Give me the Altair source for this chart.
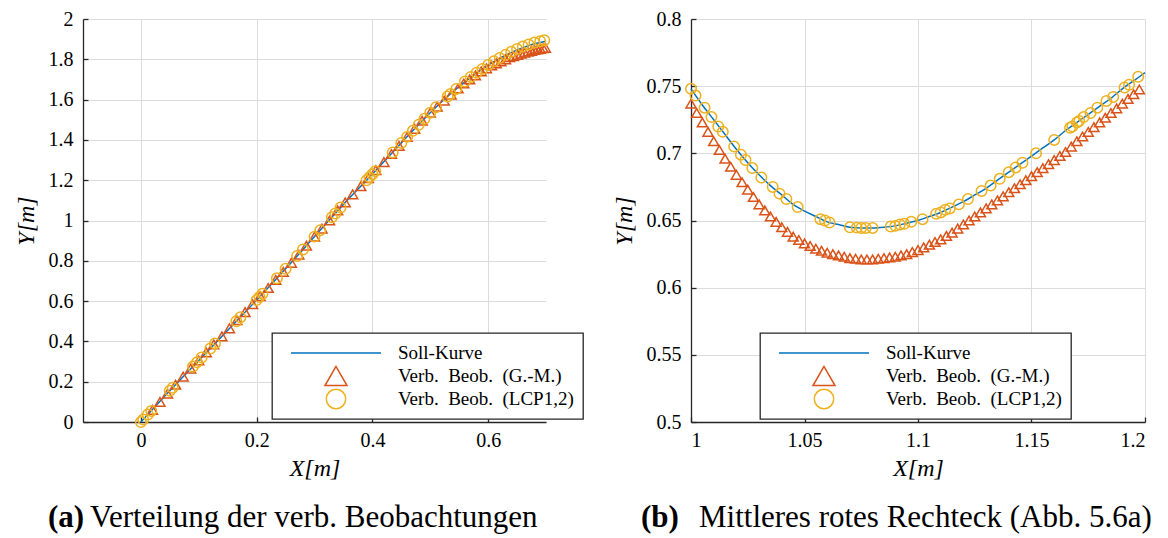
import altair as alt
import pandas as pd

FONT = "Liberation Serif"
SERIES = ["Soll-Kurve", "Verb.\u2002Beob.\u2002(G.-M.)", "Verb.\u2002Beob.\u2002(LCP1,2)"]
COLORS = ["#0072BD", "#D95319", "#EDB120"]
LEGEND_SHAPES = ["stroke", "triangle-up", "circle"]
LEGEND_SIZES = [8100, 484, 380]

# ---------------- panel (a) ----------------
A_SOLL_X = [0, 0.05, 0.1, 0.15, 0.2, 0.25, 0.3, 0.35, 0.4, 0.45, 0.5, 0.55, 0.6, 0.63, 0.66, 0.68, 0.7]
A_SOLL_Y = [0, 0.155, 0.305, 0.455, 0.605, 0.76, 0.92, 1.08, 1.23, 1.385, 1.535, 1.665, 1.77, 1.82, 1.857, 1.877, 1.89]

A_GM_X = [0.02, 0.033, 0.046, 0.06, 0.073, 0.086, 0.1, 0.113, 0.126, 0.14, 0.153, 0.166, 0.18, 0.193, 0.206,
          0.22, 0.233, 0.246, 0.26, 0.273, 0.286, 0.3, 0.313, 0.326, 0.34, 0.353, 0.366, 0.38, 0.393, 0.406,
          0.42, 0.433, 0.446, 0.46, 0.473, 0.486, 0.5, 0.512, 0.524, 0.536, 0.548, 0.558, 0.568, 0.578, 0.588,
          0.597, 0.606, 0.614, 0.622, 0.63, 0.637, 0.644, 0.651, 0.657, 0.663, 0.669, 0.675, 0.68, 0.685, 0.69,
          0.695, 0.699]
A_GM_Y = [0.06, 0.10, 0.14, 0.185, 0.225, 0.265, 0.305, 0.345, 0.385, 0.425, 0.465, 0.505, 0.545, 0.585, 0.625,
          0.665, 0.705, 0.745, 0.79, 0.83, 0.875, 0.92, 0.96, 1.00, 1.05, 1.09, 1.13, 1.17, 1.21, 1.25,
          1.29, 1.33, 1.37, 1.415, 1.455, 1.495, 1.535, 1.565, 1.595, 1.625, 1.655, 1.68, 1.70, 1.72, 1.74,
          1.755, 1.77, 1.78, 1.79, 1.80, 1.81, 1.815, 1.822, 1.828, 1.833, 1.838, 1.842, 1.846, 1.849, 1.852,
          1.855, 1.857]

A_LCP_X = [0, 0.004, 0.012, 0.018, 0.05, 0.055, 0.09, 0.097, 0.105, 0.12, 0.128, 0.165, 0.172, 0.2, 0.205,
           0.21, 0.235, 0.25, 0.27, 0.28, 0.3, 0.31, 0.33, 0.336, 0.345, 0.39, 0.395, 0.4, 0.405, 0.435,
           0.45, 0.46, 0.47, 0.48, 0.49, 0.5, 0.51, 0.53, 0.535, 0.545, 0.56, 0.57, 0.58, 0.59, 0.6,
           0.61, 0.62, 0.63, 0.64, 0.65, 0.66, 0.67, 0.68, 0.69, 0.697]
A_LCP_Y = [0, 0.012, 0.037, 0.055, 0.155, 0.17, 0.275, 0.296, 0.32, 0.365, 0.39, 0.50, 0.52, 0.605, 0.62,
           0.636, 0.713, 0.76, 0.824, 0.856, 0.92, 0.952, 1.016, 1.035, 1.064, 1.20, 1.215, 1.23, 1.245, 1.338,
           1.385, 1.415, 1.445, 1.475, 1.505, 1.535, 1.562, 1.615, 1.628, 1.653, 1.69, 1.712, 1.733, 1.752, 1.772,
           1.79, 1.806, 1.822, 1.837, 1.851, 1.863, 1.874, 1.883, 1.89, 1.895]

A_X_DOMAIN = [-0.1, 0.7]
A_Y_DOMAIN = [0, 2]
A_X_TICKS = [0, 0.2, 0.4, 0.6]
A_Y_TICKS = [0, 0.2, 0.4, 0.6, 0.8, 1, 1.2, 1.4, 1.6, 1.8, 2]
CAPTION_A = ["(a)", "Verteilung der verb. Beobachtungen"]

# ---------------- panel (b) ----------------
B_SOLL_X = [1.000, 1.005, 1.010, 1.015, 1.020, 1.025, 1.030, 1.035, 1.040, 1.045, 1.050, 1.055, 1.060, 1.065,
            1.070, 1.075, 1.080, 1.085, 1.090, 1.095, 1.100, 1.105, 1.110, 1.115, 1.120, 1.125, 1.130, 1.135,
            1.140, 1.145, 1.150, 1.155, 1.160, 1.165, 1.170, 1.175, 1.180, 1.185, 1.190, 1.195, 1.200]
B_SOLL_Y = [0.748, 0.736, 0.725, 0.714, 0.703, 0.693, 0.684, 0.676, 0.669, 0.662, 0.657, 0.653, 0.649, 0.647,
            0.645, 0.6445, 0.6445, 0.645, 0.646, 0.648, 0.650, 0.653, 0.656, 0.660, 0.664, 0.669, 0.674, 0.680,
            0.686, 0.692, 0.698, 0.704, 0.710, 0.717, 0.723, 0.729, 0.735, 0.741, 0.748, 0.754, 0.760]

B_GM_X = [1.0, 1.0025, 1.005, 1.0075, 1.01, 1.0125, 1.015, 1.0175, 1.02, 1.0225, 1.025, 1.0275, 1.03, 1.0325,
          1.035, 1.0375, 1.04, 1.0425, 1.045, 1.0475, 1.05, 1.0525, 1.055, 1.0575, 1.06, 1.0625, 1.065, 1.0675,
          1.07, 1.0725, 1.075, 1.0775, 1.08, 1.0825, 1.085, 1.0875, 1.09, 1.0925, 1.095, 1.0975, 1.1, 1.1025,
          1.105, 1.1075, 1.11, 1.1125, 1.115, 1.1175, 1.12, 1.1225, 1.125, 1.1275, 1.13, 1.1325, 1.135, 1.1375,
          1.14, 1.1425, 1.145, 1.1475, 1.15, 1.1525, 1.155, 1.1575, 1.16, 1.1625, 1.165, 1.1675, 1.17, 1.1725,
          1.175, 1.1775, 1.18, 1.1825, 1.185, 1.1875, 1.19, 1.1925, 1.195, 1.1975]
B_GM_Y = [0.737, 0.730, 0.723, 0.716, 0.709, 0.7025, 0.696, 0.690, 0.684, 0.6785, 0.673, 0.6675, 0.662, 0.6575,
          0.653, 0.649, 0.645, 0.6415, 0.638, 0.6355, 0.633, 0.631, 0.629, 0.6275, 0.626, 0.625, 0.624, 0.623,
          0.622, 0.6215, 0.621, 0.621, 0.621, 0.6215, 0.622, 0.6225, 0.623, 0.624, 0.625, 0.6265, 0.628, 0.630,
          0.632, 0.634, 0.636, 0.6385, 0.641, 0.644, 0.647, 0.650, 0.653, 0.656, 0.659, 0.662, 0.665, 0.668,
          0.671, 0.674, 0.677, 0.680, 0.683, 0.686, 0.689, 0.692, 0.695, 0.698, 0.701, 0.705, 0.709, 0.7125,
          0.716, 0.7195, 0.723, 0.7265, 0.730, 0.7335, 0.737, 0.7405, 0.744, 0.7475]

B_LCP_X = [1.000, 1.002, 1.006, 1.009, 1.012, 1.014, 1.019, 1.022, 1.024, 1.027, 1.031, 1.036, 1.039, 1.042,
           1.047, 1.057, 1.059, 1.061, 1.070, 1.073, 1.075, 1.077, 1.080, 1.088, 1.090, 1.092, 1.094, 1.097,
           1.102, 1.108, 1.110, 1.112, 1.114, 1.118, 1.122, 1.128, 1.132, 1.136, 1.140, 1.143, 1.146, 1.152,
           1.160, 1.167, 1.168, 1.170, 1.171, 1.173, 1.176, 1.179, 1.183, 1.186, 1.191, 1.193, 1.197]
B_LCP_Y = [0.748, 0.743, 0.734, 0.727, 0.720, 0.716, 0.705, 0.699, 0.695, 0.689, 0.682, 0.675, 0.670, 0.666,
           0.660, 0.651, 0.650, 0.6485, 0.645, 0.6447, 0.6445, 0.6445, 0.6445, 0.6455, 0.646, 0.647, 0.6475, 0.649,
           0.651, 0.655, 0.656, 0.658, 0.659, 0.662, 0.666, 0.672, 0.676, 0.681, 0.686, 0.6895, 0.693, 0.700,
           0.710, 0.719, 0.720, 0.723, 0.724, 0.727, 0.730, 0.734, 0.739, 0.742, 0.749, 0.751, 0.757]

B_X_DOMAIN = [1.0, 1.2]
B_Y_DOMAIN = [0.5, 0.8]
B_X_TICKS = [1, 1.05, 1.1, 1.15, 1.2]
B_Y_TICKS = [0.5, 0.55, 0.6, 0.65, 0.7, 0.75, 0.8]
CAPTION_B = ["(b)", "Mittleres rotes Rechteck (Abb. 5.6a)"]

W_A, W_B, H = 463, 454, 403

AX_TEXT = dict(labelFont=FONT, labelFontSize=20, labelColor="black",
               titleFont=FONT, titleFontSize=24, titleFontStyle="italic",
               titleFontWeight="normal", titleColor="black")


def panel(sx, sy, gx, gy, lx, ly, xdom, ydom, xt, yt, caption, w, legend_x, cap_dx):
    soll = pd.DataFrame({"x": sx, "y": sy, "s": SERIES[0]})
    gm = pd.DataFrame({"x": gx, "y": gy, "s": SERIES[1]})
    lcp = pd.DataFrame({"x": lx, "y": ly, "s": SERIES[2]})

    legend = alt.Legend(
        title=None, orient="none", legendX=legend_x, legendY=314, direction="vertical",
        strokeColor="#262626", fillColor="white", padding=9, clipHeight=22, rowPadding=1,
        symbolOffset=9, labelOffset=16, labelFont=FONT, labelFontSize=19, labelColor="black",
        symbolStrokeWidth=1.5, labelLimit=400, cornerRadius=0,
    )
    color = alt.Color("s:N", scale=alt.Scale(domain=SERIES, range=COLORS), legend=legend)
    shape = alt.Shape("s:N", scale=alt.Scale(domain=SERIES, range=LEGEND_SHAPES), legend=legend)
    size = alt.Size("s:N", scale=alt.Scale(type="ordinal", domain=SERIES, range=LEGEND_SIZES), legend=legend)

    xs = alt.Scale(domain=xdom, nice=False, zero=False)
    ys = alt.Scale(domain=ydom, nice=False, zero=False)

    x_main = alt.X("x:Q", scale=xs, title="X[m]", axis=alt.Axis(
        values=xt, format="~g", orient="bottom", grid=True, gridColor="#dcdcdc", gridWidth=1,
        ticks=False, domain=True, domainColor="#262626", domainWidth=1.3, labelPadding=8,
        titlePadding=6, **AX_TEXT))
    y_main = alt.Y("y:Q", scale=ys, title="Y[m]", axis=alt.Axis(
        values=yt, format="~g", orient="left", grid=True, gridColor="#dcdcdc", gridWidth=1,
        ticks=False, domain=True, domainColor="#262626", domainWidth=1.3, labelPadding=10,
        titlePadding=10, **AX_TEXT))
    x_tick = alt.X("x:Q", scale=xs, title=None, axis=alt.Axis(
        values=xt, orient="bottom", offset=-5, domain=False, labels=False, grid=False,
        ticks=True, tickSize=5, tickColor="#262626", tickWidth=1.3))
    y_tick = alt.Y("y:Q", scale=ys, title=None, axis=alt.Axis(
        values=yt, orient="left", offset=-5, domain=False, labels=False, grid=False,
        ticks=True, tickSize=5, tickColor="#262626", tickWidth=1.3))
    x_none = alt.X("x:Q", scale=xs, axis=None)
    y_none = alt.Y("y:Q", scale=ys, axis=None)

    line = alt.Chart(soll).mark_line(strokeWidth=1.5, interpolate="monotone").encode(
        x=x_main, y=y_main, color=color)
    tri = alt.Chart(gm).mark_point(filled=False, size=100, strokeWidth=1.5, opacity=1).encode(
        x=x_tick, y=y_tick, color=color, shape=shape)
    circ = alt.Chart(lcp).mark_point(filled=False, size=110, strokeWidth=1.5, opacity=1).encode(
        x=x_none, y=y_none, color=color, shape=shape)
    dummy = alt.Chart(pd.DataFrame({"s": SERIES})).mark_point(filled=False, opacity=1).encode(
        color=color, shape=shape, size=size).transform_filter("false")

    cap1 = alt.Chart(pd.DataFrame({"t": [caption[0]]})).mark_text(
        align="left", baseline="alphabetic", font=FONT, fontSize=31, fontWeight="bold", color="black"
    ).encode(text="t:N", x=alt.value(cap_dx[0]), y=alt.value(508))
    cap2 = alt.Chart(pd.DataFrame({"t": [caption[1]]})).mark_text(
        align="left", baseline="alphabetic", font=FONT, fontSize=31, color="black"
    ).encode(text="t:N", x=alt.value(cap_dx[1]), y=alt.value(508))

    return alt.layer(line, tri, circ, dummy, cap1, cap2).resolve_axis(
        x="independent", y="independent").properties(width=w, height=H)


left = panel(A_SOLL_X, A_SOLL_Y, A_GM_X, A_GM_Y, A_LCP_X, A_LCP_Y, A_X_DOMAIN, A_Y_DOMAIN,
             A_X_TICKS, A_Y_TICKS, CAPTION_A, W_A, 189, (-35, 7))
right = panel(B_SOLL_X, B_SOLL_Y, B_GM_X, B_GM_Y, B_LCP_X, B_LCP_Y, B_X_DOMAIN, B_Y_DOMAIN,
              B_X_TICKS, B_Y_TICKS, CAPTION_B, W_B, 69, (-50, 8))

chart = alt.hconcat(left, right, spacing=145, bounds="flush").resolve_scale(
    color="independent", shape="independent", size="independent"
).resolve_legend(
    color="independent", shape="independent", size="independent"
).properties(
    padding={"left": 14, "top": 9, "right": 5, "bottom": 5}
).configure_legend(
    strokeWidth=1.3
).configure_view(stroke=None)

chart.save("out.html", embed_options={"renderer": "svg", "actions": False})
